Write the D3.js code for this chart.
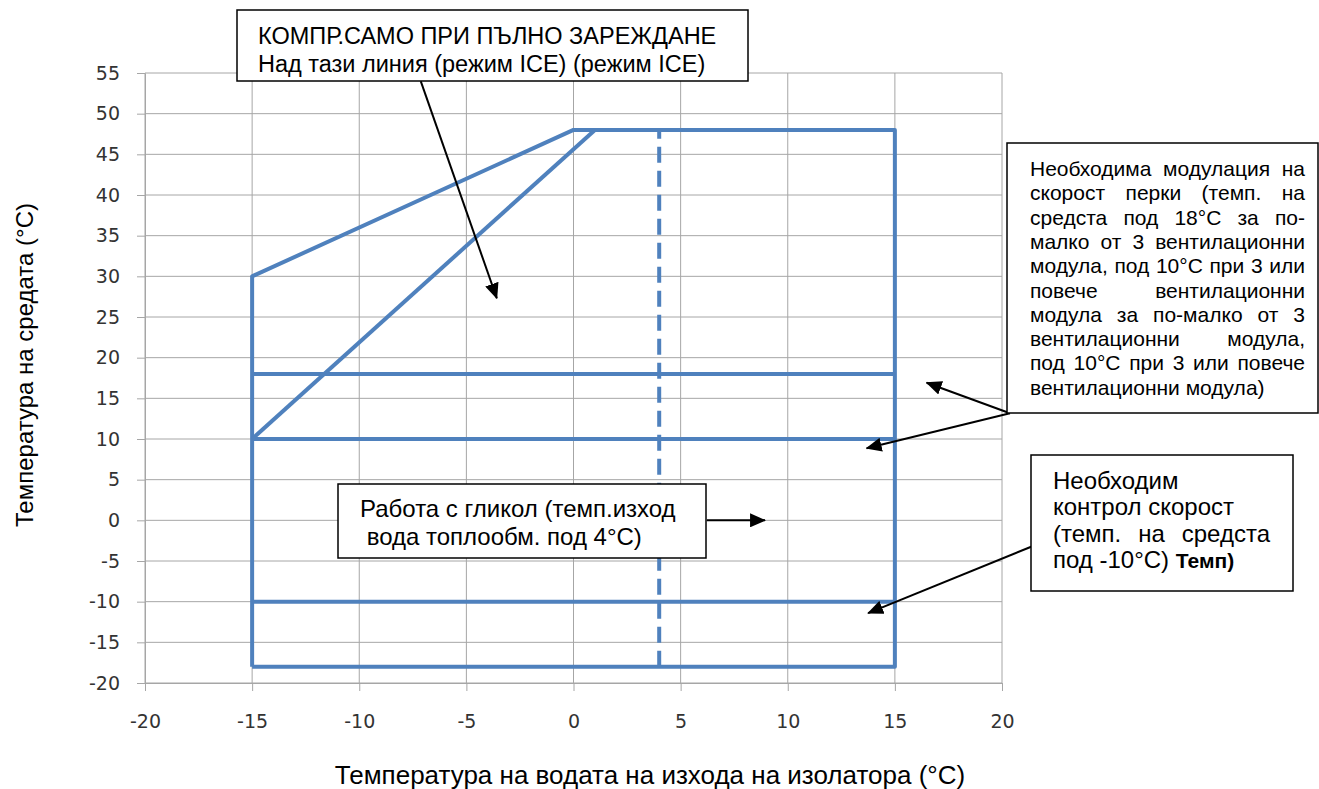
<!DOCTYPE html>
<html>
<head>
<meta charset="utf-8">
<script src="https://cdn.jsdelivr.net/npm/d3@7"></script>
<style>
    body { margin: 0; background: #fff; }
    #chart { width: 1319px; height: 789px; }
    .note text { font-family: "Liberation Sans", Arial, sans-serif; fill: #000; white-space: pre; }
    .tick text { font-family: "DejaVu Sans", sans-serif; fill: #333; }
    .axis-title { font-family: "Liberation Sans", Arial, sans-serif; fill: #000; }
</style>
</head>
<body>
<div id="chart"></div>
<script>

// axis ticks
const xTickValues = [-20, -15, -10, -5, 0, 5, 10, 15, 20];
const yTickValues = [-20, -15, -10, -5, 0, 5, 10, 15, 20, 25, 30, 35, 40, 45, 50, 55];

// operating envelope (x = leaving water temp, y = ambient temp)
const envelope = [[-15, -18], [-15, 30], [0, 48], [15, 48], [15, -18], [-15, -18]];
const iceLine = [[-15, 10], [1, 48]];
const limit18 = [[-15, 18], [15, 18]];
const limit10 = [[-15, 10], [15, 10]];
const limitMinus10 = [[-15, -10], [15, -10]];
const glycolLimit = [[4, -18], [4, 48]];

const xTitle = "Температура на водата на изхода на изолатора (°C)";
const yTitle = "Температура на средата (°C)";

// annotation texts
const iceNote = ["КОМПР.САМО ПРИ ПЪЛНО ЗАРЕЖДАНЕ", "Над тази линия (режим ICE) (режим ICE)"];
const fanNote = [
    "Необходима модулация на",
    "скорост перки (темп. на",
    "средста под 18°C за по-",
    "малко от 3 вентилационни",
    "модула, под 10°C при 3 или",
    "повече вентилационни",
    "модула за по-малко от 3",
    "вентилационни модула,",
    "под 10°C при 3 или повече",
    "вентилационни модула)"
];
const speedNote = ["Необходим", "контрол скорост", "(темп. на средста", "под -10°C) "];
const speedNoteBold = "Темп)";
const glycolNote = ["Работа с гликол (темп.изход", " вода топлообм. под 4°C)"];

// arrows, in data units [x, y]
const arrows = [
    {from: [-7.13, 54.0], to: [-3.58, 27.3]},
    {from: [20.37, 13.16], to: [16.48, 16.92]},
    {from: [20.37, 13.16], to: [13.68, 8.87]},
    {from: [21.39, -3.22], to: [13.75, -11.4]},
    {from: [6.23, 0], to: [8.94, 0]}
];


class EnvelopeChart {

    constructor(parentElement) {
        this.parentElement = parentElement;
        this.initVis();
    }

    initVis() {
        let vis = this;

        vis.margin = {top: 73, right: 317, bottom: 106, left: 145};
        vis.width = 1319 - vis.margin.left - vis.margin.right;
        vis.height = 789 - vis.margin.top - vis.margin.bottom;

        vis.root = d3.select("#" + vis.parentElement).append("svg")
            .attr("width", 1319)
            .attr("height", 789);

        vis.svg = vis.root.append("g")
            .attr("transform", "translate(" + vis.margin.left + "," + vis.margin.top + ")");

        vis.x = d3.scaleLinear().domain([-20, 20]).range([0, vis.width]);
        vis.y = d3.scaleLinear().domain([-20, 55]).range([vis.height, 0]);

        // grid
        vis.svg.append("g").selectAll("line.hgrid")
            .data(yTickValues)
            .enter().append("line")
            .attr("x1", 0).attr("x2", vis.width)
            .attr("y1", d => vis.y(d)).attr("y2", d => vis.y(d))
            .attr("stroke", "#a6a6a6").attr("stroke-width", 1);

        vis.svg.append("g").selectAll("line.vgrid")
            .data(xTickValues)
            .enter().append("line")
            .attr("x1", d => vis.x(d)).attr("x2", d => vis.x(d))
            .attr("y1", 0).attr("y2", vis.height)
            .attr("stroke", "#a6a6a6").attr("stroke-width", 1);

        // axes (plain hyphen for negatives, like the original)
        let fmt = d => String(d);
        let xAxis = vis.svg.append("g")
            .attr("transform", "translate(0," + vis.height + ")")
            .call(d3.axisBottom(vis.x).tickValues(xTickValues).tickFormat(fmt).tickSize(8).tickPadding(24).tickSizeOuter(0));
        let yAxis = vis.svg.append("g")
            .call(d3.axisLeft(vis.y).tickValues(yTickValues).tickFormat(fmt).tickSize(8).tickPadding(17).tickSizeOuter(0));

        [xAxis, yAxis].forEach(a => {
            a.select(".domain").attr("stroke", "#a6a6a6");
            a.selectAll(".tick line").attr("stroke", "#a6a6a6");
            a.selectAll(".tick text").attr("font-size", 19).attr("font-family", null);
        });

        // series
        let line = d3.line().x(d => vis.x(d[0])).y(d => vis.y(d[1]));
        let series = [envelope, iceLine, limit18, limit10, limitMinus10];
        vis.svg.append("g").selectAll("path")
            .data(series)
            .enter().append("path")
            .attr("d", line)
            .attr("fill", "none")
            .attr("stroke", "#4f81bd")
            .attr("stroke-width", 4)
            .attr("stroke-linejoin", "round");

        vis.svg.append("path")
            .datum(glycolLimit)
            .attr("d", line)
            .attr("fill", "none")
            .attr("stroke", "#4f81bd")
            .attr("stroke-width", 4)
            .attr("stroke-dasharray", "16,8");

        // axis titles
        vis.root.append("text")
            .attr("class", "axis-title")
            .attr("x", 650).attr("y", 784)
            .attr("text-anchor", "middle")
            .attr("font-size", 26)
            .text(xTitle);

        vis.root.append("text")
            .attr("class", "axis-title")
            .attr("transform", "translate(33,365) rotate(-90)")
            .attr("text-anchor", "middle")
            .attr("font-size", 24)
            .text(yTitle);

        vis.drawNotes();
    }

    drawNotes() {
        let vis = this;

        let notes = vis.root.append("g").attr("class", "note");

        // boxes (white fill hides the grid behind them)
        let box = (x0, y0, x1, y1) => notes.append("rect")
            .attr("x", x0).attr("y", y0)
            .attr("width", x1 - x0).attr("height", y1 - y0)
            .attr("fill", "#fff").attr("stroke", "#000").attr("stroke-width", 1.5);

        box(237, 10, 748, 81);
        box(1007, 143, 1318, 413);
        box(1031, 455, 1293, 591);
        box(338, 484, 706, 558);

        // plain lines
        let plain = (lines, x0, y0, lh, size) => lines.map((t, i) => notes.append("text")
            .attr("x", x0).attr("y", y0 + i * lh)
            .attr("font-size", size)
            .text(t));

        // justified line: words spread over the wrap width
        let justify = (t, x0, y, w, size) => {
            let words = t.split(" ");
            let nodes = words.map(wd => notes.append("text").attr("y", y).attr("font-size", size).text(wd));
            let widths = nodes.map(n => n.node().getComputedTextLength());
            let gap = (w - d3.sum(widths)) / (words.length - 1);
            let x = x0;
            nodes.forEach((n, j) => { n.attr("x", x); x += widths[j] + gap; });
        };

        plain(iceNote, 258, 44, 28, 23.5);

        fanNote.forEach((t, i) => {
            if (i < fanNote.length - 1) justify(t, 1030, 176 + i * 24.3, 275, 21);
            else plain([t], 1030, 176 + i * 24.3, 24.3, 21);
        });

        plain(speedNote.slice(0, 2), 1053, 489, 26.3, 24);
        justify(speedNote[2], 1053, 489 + 2 * 26.3, 217, 24);
        let last = notes.append("text").attr("x", 1053).attr("y", 489 + 3 * 26.3).attr("font-size", 24);
        last.append("tspan").text(speedNote[3]);
        last.append("tspan").attr("font-weight", "bold").attr("font-size", 21).text(speedNoteBold);

        plain(glycolNote, 360, 517, 28, 24);

        // arrows
        let defs = vis.root.append("defs");
        defs.append("marker")
            .attr("id", "arrowhead")
            .attr("viewBox", "0 0 16 14")
            .attr("refX", 15).attr("refY", 7)
            .attr("markerWidth", 16).attr("markerHeight", 14)
            .attr("markerUnits", "userSpaceOnUse")
            .attr("orient", "auto")
            .append("path")
            .attr("d", "M0,0 L16,7 L0,14 Z")
            .attr("fill", "#000");

        vis.svg.append("g").selectAll("line")
            .data(arrows)
            .enter().append("line")
            .attr("x1", d => vis.x(d.from[0])).attr("y1", d => vis.y(d.from[1]))
            .attr("x2", d => vis.x(d.to[0])).attr("y2", d => vis.y(d.to[1]))
            .attr("stroke", "#000")
            .attr("stroke-width", 2)
            .attr("marker-end", "url(#arrowhead)");
    }
}

new EnvelopeChart("chart");

</script>
</body>
</html>
